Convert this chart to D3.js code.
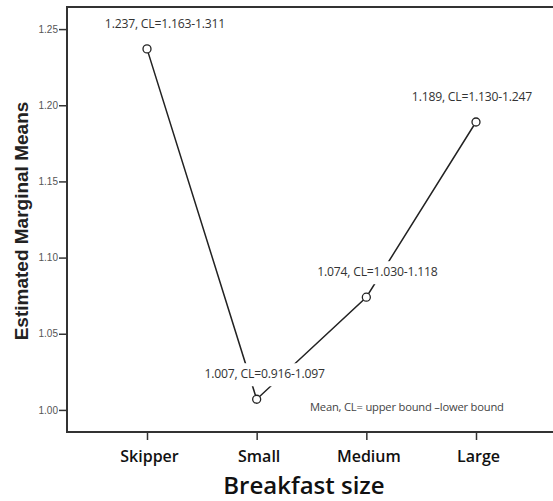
<!DOCTYPE html>
<html>
<head>
<meta charset="utf-8">
<script src="https://cdn.jsdelivr.net/npm/d3@7"></script>
<style>
  body { margin: 0; background: #fff; }
  svg { display: block; }
</style>
</head>
<body>
<div id="d3-container"></div>
<script>
const categories = ['Skipper', 'Small', 'Medium', 'Large']
const means = [1.237, 1.007, 1.074, 1.189]
const lower = [1.163, 0.916, 1.030, 1.130]
const upper = [1.311, 1.097, 1.118, 1.247]
const yTicks = [1.0, 1.05, 1.1, 1.15, 1.2, 1.25]

// label nudges (layout only)
const labelDx = [18, 8, 11, -4]

const width = 553
const height = 501
const frame = { left: 67, top: 7, bottom: 432, right: 560 }

const data = categories.map((c, i) => ({
  cat: c, mean: means[i], lo: lower[i], hi: upper[i], dx: labelDx[i]
}))

const x = d3.scalePoint().domain(categories).range([147, 476])
const y = d3.scaleLinear().domain([0.9855, 1.2645]).range([frame.bottom, frame.top])

const svg = d3.select('#d3-container')
  .append('svg')
  .attr('width', width)
  .attr('height', height)

// frame
svg.append('path')
  .attr('d', `M${frame.right},${frame.top}H${frame.left}V${frame.bottom}H${frame.right}`)
  .attr('fill', 'none')
  .attr('stroke', '#333')
  .attr('stroke-width', 2)

// y axis
const yAxis = svg.append('g')
  .attr('transform', `translate(${frame.left},0)`)
  .call(d3.axisLeft(y).tickValues(yTicks).tickFormat(d3.format('.2f')).tickSize(8))
yAxis.select('.domain').remove()
yAxis.selectAll('line').attr('stroke', '#333').attr('stroke-width', 1.5)
yAxis.selectAll('text')
  .attr('font-family', 'Arial, Liberation Sans, sans-serif')
  .attr('font-size', 10)
  .attr('fill', '#555')
  .attr('x', -9)

// x axis
const xAxis = svg.append('g')
  .attr('transform', `translate(0,${frame.bottom})`)
  .call(d3.axisBottom(x).tickSize(8))
xAxis.select('.domain').remove()
xAxis.selectAll('line').attr('stroke', '#333').attr('stroke-width', 1.5)
xAxis.selectAll('text')
  .attr('font-family', 'Open Sans, sans-serif')
  .attr('font-weight', 600)
  .attr('font-size', 16)
  .attr('fill', '#111')
  .attr('y', 19)
  .attr('dx', 2)

// axis titles
svg.append('text')
  .attr('transform', 'translate(28,221) rotate(-90)')
  .attr('text-anchor', 'middle')
  .attr('font-family', 'Arial, Liberation Sans, sans-serif')
  .attr('font-weight', 'bold')
  .attr('font-size', 19)
  .attr('fill', '#222')
  .text('Estimated Marginal Means')

svg.append('text')
  .attr('x', 304)
  .attr('y', 494)
  .attr('text-anchor', 'middle')
  .attr('font-family', 'Open Sans, sans-serif')
  .attr('font-weight', 600)
  .attr('font-size', 24)
  .attr('fill', '#111')
  .text('Breakfast size')

// line
svg.append('path')
  .datum(data)
  .attr('fill', 'none')
  .attr('stroke', '#222')
  .attr('stroke-width', 1.5)
  .attr('d', d3.line().x(d => x(d.cat)).y(d => y(d.mean)))

// labels with white backing
const labels = svg.append('g')
  .selectAll('g')
  .data(data)
  .join('g')
  .attr('transform', d => `translate(${x(d.cat) + d.dx},${y(d.mean) - 21})`)

labels.append('text')
  .attr('text-anchor', 'middle')
  .attr('font-family', 'Open Sans, sans-serif')
  .attr('font-size', 12.2)
  .attr('letter-spacing', -0.2)
  .attr('fill', '#333')
  .text(d => `${d3.format('.3f')(d.mean)}, CL=${d3.format('.3f')(d.lo)}-${d3.format('.3f')(d.hi)}`)
  .each(function() {
    const b = this.getBBox()
    d3.select(this.parentNode).insert('rect', 'text')
      .attr('x', b.x - 2)
      .attr('y', b.y - 2)
      .attr('width', b.width + 4)
      .attr('height', b.height + 6)
      .attr('fill', '#fff')
  })

// points
svg.append('g')
  .selectAll('circle')
  .data(data)
  .join('circle')
  .attr('cx', d => x(d.cat))
  .attr('cy', d => y(d.mean))
  .attr('r', 4)
  .attr('fill', '#fff')
  .attr('stroke', '#222')
  .attr('stroke-width', 1.3)

// note
svg.append('text')
  .attr('x', 310)
  .attr('y', 411)
  .attr('font-family', 'Open Sans, sans-serif')
  .attr('font-size', 11.2)
  .attr('letter-spacing', -0.2)
  .attr('fill', '#444')
  .text('Mean, CL= upper bound \u2013lower bound')
</script>
</body>
</html>
